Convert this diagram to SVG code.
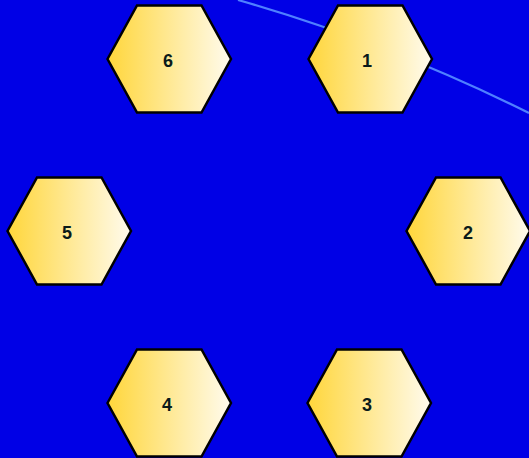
<svg xmlns="http://www.w3.org/2000/svg" width="529" height="458" viewBox="0 0 529 458">
<defs>
<linearGradient id="g" x1="0" y1="0" x2="1" y2="0">
<stop offset="0" stop-color="#FFD63A"/>
<stop offset="1" stop-color="#FFFBEE"/>
</linearGradient>
<polygon id="hex" points="-61.5,0 -32,-53.5 32.5,-53.5 62,0 32.5,53.5 -32,53.5"/>
</defs>
<style>
.h{fill:url(#g);stroke:#000;stroke-width:2.5;stroke-linejoin:miter}
.t{font-family:"Liberation Sans",Arial,sans-serif;font-weight:bold;font-size:18px;fill:#0A1A1A;text-anchor:middle}
</style>
<rect width="529" height="458" fill="#0000E6"/>
<g id="connectors">
<path d="M238,0 A1715,1715 0 0 1 529,113" fill="none" stroke="#4F80FF" stroke-width="2.2"/>
</g>
<g id="n6"><use href="#hex" x="169" y="59" class="h"/><text class="t" x="168" y="67">6</text></g>
<g id="n1"><use href="#hex" x="370" y="59" class="h"/><text class="t" x="367" y="67">1</text></g>
<g id="n5"><use href="#hex" x="69" y="231" class="h"/><text class="t" x="67" y="239">5</text></g>
<g id="n2"><use href="#hex" x="468" y="231" class="h"/><text class="t" x="468" y="239">2</text></g>
<g id="n4"><use href="#hex" x="169" y="403" class="h"/><text class="t" x="167" y="411">4</text></g>
<g id="n3"><use href="#hex" x="369" y="403" class="h"/><text class="t" x="367" y="411">3</text></g>
</svg>
